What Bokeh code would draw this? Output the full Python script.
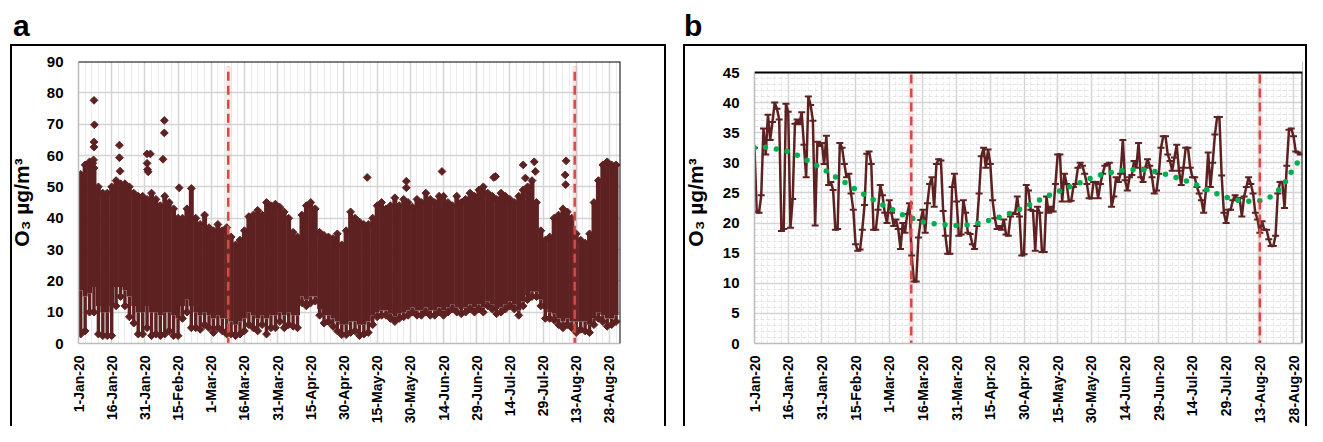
import numpy as np
from math import pi
from bokeh.plotting import figure
from bokeh.layouts import row, column
from bokeh.models import FixedTicker, Span, Div
from bokeh.embed import file_html
from bokeh.resources import INLINE

# ---------------- data ----------------
tick_labels = ["1-Jan-20", "16-Jan-20", "31-Jan-20", "15-Feb-20", "1-Mar-20", "16-Mar-20",
               "31-Mar-20", "15-Apr-20", "30-Apr-20", "15-May-20", "30-May-20", "14-Jun-20",
               "29-Jun-20", "14-Jul-20", "29-Jul-20", "13-Aug-20", "28-Aug-20"]
tick_step_days = 15
panel_letters = ["a", "b"]

# panel b: daily mean O3 (ug/m3), 1-Jan-20 ... 31-Aug-20
daily_o3 = [
    32.5, 21.9, 21.7, 24.6, 35.7, 31.4, 38.0, 33.8, 36.8, 40.0,
    39.0, 37.2, 18.7, 19.0, 39.8, 38.5, 19.2, 24.0, 36.5, 37.2,
    36.4, 38.4, 33.0, 27.6, 41.0, 39.6, 37.0, 19.6, 33.5, 32.8,
    33.3, 29.8, 34.5, 26.3, 26.8, 25.5, 18.9, 19.0, 33.3, 32.5,
    29.8, 27.6, 28.2, 24.9, 22.2, 16.5, 15.4, 15.6, 18.9, 23.0,
    31.5, 31.9, 29.8, 18.9, 18.9, 22.2, 26.3, 24.6, 21.7, 20.0,
    23.8, 21.7, 19.5, 20.6, 19.0, 15.7, 20.0, 18.4, 21.5, 23.3,
    14.6, 10.3, 10.3, 17.6, 20.5, 22.2, 18.4, 23.3, 26.5, 27.6,
    22.7, 29.8, 30.6, 30.4, 22.0, 17.9, 14.9, 14.9, 26.0, 28.2,
    23.6, 17.9, 18.1, 23.8, 21.7, 18.4, 18.2, 16.5, 15.7, 19.5,
    24.9, 31.1, 32.5, 29.2, 32.2, 29.8, 23.8, 20.8, 19.0, 19.5,
    18.9, 20.6, 18.1, 17.9, 21.1, 21.7, 21.5, 24.4, 21.1, 14.6,
    14.8, 26.3, 25.4, 22.2, 22.0, 15.4, 22.7, 21.7, 15.2, 15.2,
    24.4, 21.7, 22.7, 21.9, 26.5, 31.4, 31.4, 23.6, 28.2, 26.5,
    23.6, 23.7, 26.0, 26.5, 29.2, 30.0, 29.5, 28.2, 26.5, 24.1,
    24.1, 26.8, 26.8, 24.1, 26.5, 28.2, 29.5, 29.8, 30.0, 22.7,
    24.4, 27.6, 26.8, 28.2, 33.8, 27.1, 25.4, 27.6, 28.0, 30.3,
    29.2, 33.3, 27.6, 26.8, 29.2, 30.6, 29.5, 27.6, 24.9, 25.4,
    28.2, 32.5, 34.4, 34.4, 31.4, 30.3, 28.7, 30.9, 33.0, 28.7,
    26.3, 29.2, 32.5, 32.5, 29.2, 27.6, 27.6, 26.0, 24.9, 23.8,
    21.7, 25.4, 31.7, 26.0, 30.0, 34.7, 37.6, 37.6, 27.9, 21.7,
    20.0, 22.2, 22.2, 23.8, 24.6, 24.1, 24.1, 21.1, 24.4, 26.0,
    27.6, 26.5, 24.9, 21.7, 20.6, 18.4, 20.3, 18.9, 18.9, 17.3,
    16.2, 16.2, 17.9, 24.9, 26.8, 26.8, 22.5, 29.5, 35.5, 35.7,
    34.4, 31.9, 31.7, 31.4,
]

# panel b: polynomial trend line (day, value)
trend_day = [0, 5, 10, 15, 20, 25, 30, 35, 40, 45, 50, 55, 60, 65, 70, 75, 80, 85, 90, 95,
             100, 105, 110, 115, 120, 125, 130, 135, 140, 145, 150, 155, 160, 165, 170, 175,
             180, 185, 190, 195, 200, 205, 210, 215, 220, 225, 230, 235, 240, 244]
trend_val = [32.5, 32.6, 32.3, 31.9, 31.1, 30.1, 29.1, 27.9, 26.8, 25.6, 24.5, 23.4, 22.5, 21.5,
             20.8, 20.2, 19.9, 19.7, 19.6, 19.7, 20.0, 20.5, 21.1, 21.8, 22.6, 23.5, 24.4, 25.2,
             26.0, 26.7, 27.5, 28.1, 28.5, 28.8, 28.9, 28.8, 28.4, 27.9, 27.3, 26.6, 25.8, 25.0,
             24.3, 23.8, 23.6, 23.7, 24.4, 26.0, 29.1, 31.2]

# panel a: hourly O3 cloud per 2-day bin:
# highest value, lower edge of the dense core, lowest value
bin_days = 2
hourly_hi = [
    54, 57, 58, 56, 50, 48, 48, 50, 52, 51,
    51, 50, 48, 47, 47, 46, 48, 46, 44, 47,
    45, 43, 40, 40, 43, 49.5, 40, 38, 41, 37,
    36, 38, 36, 37, 34, 31.5, 33, 36, 40.5, 41,
    42.5, 41, 45, 44, 44.5, 43.5, 42, 40, 35.5, 34,
    41, 44, 45, 43, 35.5, 34.5, 34, 33.5, 35, 31.5,
    36, 42, 40, 38.8, 38, 38, 40, 44, 45, 43,
    44, 46.5, 44, 46, 45, 43.5, 46, 45, 48, 46,
    45, 47, 47, 45, 44, 47, 45, 46, 48, 47,
    49, 50, 48, 47, 46, 48, 47, 46, 45, 47,
    49, 50, 52, 45, 36, 33, 34, 40, 41, 43,
    42, 40, 35, 33, 32, 35, 45, 52, 57, 58,
    57, 57,
]
hourly_core_lo = [
    17, 15, 16, 18, 12, 10, 10, 12, 18, 18,
    17, 15, 12, 10, 10, 12, 10, 10, 9, 10,
    10, 9, 8, 12, 14, 12, 10, 9, 10, 9,
    8, 9, 8, 8, 7, 6, 7, 8, 10, 9,
    8, 9, 8, 9, 9, 10, 9, 10, 9, 9,
    15, 14, 15, 15, 11, 9, 9, 8, 7, 6,
    6, 7, 7, 6, 6, 7, 9, 10, 10.5, 10.5,
    9.5, 8.5, 9.5, 10, 10.5, 11.5, 10.5, 10.5, 11.5, 10.5,
    10.5, 11.5, 10.5, 11.5, 12.5, 11.5, 11, 11.5, 12.5, 11.5,
    12.5, 11.5, 13.5, 12.5, 11, 11.5, 12.5, 13.5, 12.5, 10.5,
    13.5, 15.5, 16.5, 16.5, 14, 11, 10, 9.5, 8, 7,
    8, 7, 7, 7, 7, 6, 8, 10, 9, 8,
    8, 9,
]
hourly_lo = [
    3, 4, 10, 10, 3, 2.5, 2.5, 2.5, 12, 15,
    12, 8.5, 6.5, 3, 3, 5, 2.5, 3, 2.5, 3,
    4, 2.5, 2.5, 8, 10, 5, 5, 4.5, 6, 5,
    3.5, 5, 4, 3, 3, 2.5, 3, 4, 6, 5,
    4, 6, 3, 5, 5, 7, 5, 6, 5.5, 5,
    13, 12, 13, 13.5, 9, 6.5, 7, 5.5, 4, 2.8,
    2.8, 3.5, 4, 2.5, 3, 3.5, 6, 8.5, 9, 9,
    8, 7, 8, 8.5, 9, 10, 9, 9, 10, 9,
    9, 10, 9, 10, 11, 10, 9.5, 10, 11, 10,
    11, 10, 12, 11, 9.5, 10, 11, 12, 11, 9,
    12, 14, 15, 15, 12, 8, 8, 7.5, 6, 5,
    6, 5, 3.5, 4.5, 4, 3.5, 6, 8, 7, 5.5,
    6, 7,
]
# panel a: isolated high hourly values (day, value)
outlier_day = [6.5, 6.8, 7.0, 7.0, 7.2, 7.0, 18.5, 18.5, 18.8, 31.0, 31.0, 31.2, 31.5, 32.5,
               38.8, 38.8, 38.2, 45.5, 130.5, 148.2, 148.2, 164.3, 187.7, 188.5, 201.0, 202.0,
               206.0, 206.5, 220.4, 220.0, 220.2]
outlier_val = [57.5, 58.6, 62.7, 64.3, 69.8, 77.6, 63.3, 59.3, 55.0, 60.5, 57.5, 55.5, 54.8, 60.5,
               71.2, 67.2, 58.8, 49.7, 53.0, 51.8, 49.7, 54.9, 53.0, 53.3, 57.0, 52.8,
               58.0, 54.9, 58.3, 53.8, 50.7]

# event marker days (vertical dashed lines)
events_a = [67.7, 224.3]
events_b = [69.8, 225.0]

# ---------------- style ----------------
FONT = "Liberation Sans"
BROWN = "#5e2121"
RED = "#d44a44"
GREEN = "#00b050"

tick_days = [i * tick_step_days for i in range(len(tick_labels))]
minor_days = list(range(0, 246, 3))
HEAD = 44         # strip holding the panel letter, above the boxed figure
H = 426 - HEAD    # figure height
TOP = 61 - HEAD   # frame top inside the figure (rows align frames)
BOTTOM_B = 83     # space for rotated date labels
FRAME_BOTTOM = H - BOTTOM_B


def box_style(left, right, height):
    g = "linear-gradient(#000,#000)"
    return {
        "background-image": ", ".join([g, g, g]),
        "background-size": f"2px {height}px, {right - left + 2}px 2px, 2px {height}px",
        "background-position": f"{left}px 0px, {left}px 0px, {right}px 0px",
        "background-repeat": "no-repeat",
    }


def letter_div(letter, width, left):
    html = (f'<div style="margin:11px 0 0 {left}px; line-height:30px; font-size:30px; '
            f'font-weight:bold; font-family:\'{FONT}\'; color:black;">{letter}</div>')
    return Div(text=html, width=width, height=HEAD, margin=(0, 0, 0, 0))


def style_axes(p, yticks, yminor, ylabel, ygrid_minor, label_standoff):
    p.xaxis.ticker = FixedTicker(ticks=tick_days, minor_ticks=minor_days)
    p.xaxis.major_label_overrides = {d: l for d, l in zip(tick_days, tick_labels)}
    p.xaxis.major_label_orientation = pi / 2
    p.yaxis.ticker = FixedTicker(ticks=yticks, minor_ticks=yminor)
    for ax in (p.xaxis[0], p.yaxis[0]):
        ax.major_tick_line_color = None
        ax.minor_tick_line_color = None
        ax.axis_line_color = "#bdbdbd"
        ax.axis_line_width = 1.5
        ax.major_label_text_font = FONT
        ax.major_label_text_font_style = "bold"
        ax.major_label_text_color = "black"
    p.xaxis.major_label_text_font_size = "14px"
    p.yaxis.major_label_text_font_size = "15px"
    p.xaxis.major_label_standoff = 6
    p.yaxis.major_label_standoff = 9
    p.yaxis.axis_label = ylabel
    p.yaxis.axis_label_text_font = FONT
    p.yaxis.axis_label_text_font_style = "bold"
    p.yaxis.axis_label_text_font_size = "21px"
    p.yaxis.axis_label_text_color = "black"
    p.yaxis.axis_label_standoff = label_standoff
    p.xgrid.grid_line_color = "#d4d4d4"
    p.xgrid.grid_line_width = 1.5
    p.xgrid.minor_grid_line_color = "#ebebeb"
    p.xgrid.minor_grid_line_width = 1
    p.ygrid.grid_line_color = "#d4d4d4"
    p.ygrid.grid_line_width = 1.5
    if ygrid_minor:
        p.ygrid.minor_grid_line_color = "#e4e4e4"
        p.ygrid.minor_grid_line_width = 1
        p.ygrid.minor_grid_line_dash = "4 2"
        p.xgrid.minor_grid_line_dash = "4 2"
    p.outline_line_color = None
    p.background_fill_color = "white"
    p.border_fill_color = None


# ---------------- panel a ----------------
wa = 672
pa = figure(width=wa, height=H, x_range=(0, 245), y_range=(0, 90),
            output_backend="svg", toolbar_location=None,
            min_border_left=78, min_border_right=wa - 620, min_border_top=TOP,
            min_border_bottom=BOTTOM_B,
            styles=box_style(10, 664, H))
style_axes(pa, list(range(0, 91, 10)), [], "O₃ µg/m³", False, 11)
pa.add_layout(Span(location=90, dimension="width", line_color="black", line_width=2))
pa.add_layout(Span(location=245, dimension="height", line_color="black", line_width=2))

bin_x = [bin_days * i + bin_days / 2 for i in range(len(hourly_hi))]
pa.vbar(x=bin_x, width=bin_days * 1.12, bottom=hourly_core_lo, top=hourly_hi,
        fill_color=BROWN, line_color=None)
pa.vbar(x=bin_x, width=bin_days * 0.78, bottom=hourly_lo, top=hourly_core_lo,
        fill_color=BROWN, line_color=None)
pa.scatter(bin_x, hourly_hi, marker="square", angle=pi / 4, size=5.5, color=BROWN)
pa.scatter(bin_x, hourly_lo, marker="square", angle=pi / 4, size=5.5, color=BROWN)
pa.scatter(outlier_day, outlier_val, marker="square", angle=pi / 4, size=5.5, color=BROWN)
for d in events_a:
    pa.segment(x0=[d], y0=[-1], x1=[d], y1=[88.4], line_color=RED, line_width=6, line_alpha=0.12)
    pa.segment(x0=[d], y0=[-1], x1=[d], y1=[88.4], line_color=RED, line_width=2.5, line_dash="9 5")

# ---------------- panel b ----------------
wb = 1307 - wa
frame_right_b = 1302 - wa
yb_top_px = 72 - 61                        # 45 sits 11 px below the frame top
yb_scale = (FRAME_BOTTOM - TOP - yb_top_px) / 45.0
yb_end = 45 + yb_top_px / yb_scale
pb = figure(width=wb, height=H, x_range=(0, 244), y_range=(0, yb_end),
            output_backend="svg", toolbar_location=None,
            min_border_left=82, min_border_right=wb - frame_right_b, min_border_top=TOP,
            min_border_bottom=BOTTOM_B,
            styles=box_style(11, 633, H))
style_axes(pb, list(range(0, 46, 5)), list(range(0, 46, 1)), "O₃ µg/m³", True, 13)
pb.yaxis.bounds = (0, 45)
pb.add_layout(Span(location=244, dimension="height", line_color="black", line_width=2,
                   level="underlay"))

days = list(range(len(daily_o3)))
pb.line(days, daily_o3, line_color=BROWN, line_width=2.5)
pb.scatter(days, daily_o3, marker="dash", size=7, line_color=BROWN, line_width=2)
pb.line(trend_day, trend_val, line_color=GREEN, line_width=5.5, line_dash="0 11", line_cap="round")
for d in events_b:
    pb.segment(x0=[d], y0=[-1], x1=[d], y1=[45], line_color=RED, line_width=6, line_alpha=0.12)
    pb.segment(x0=[d], y0=[-1], x1=[d], y1=[45], line_color=RED, line_width=2.5, line_dash="9 5")
# blank strip above 45 (plot area of panel b starts lower than panel a)
pb.quad(left=[-5], right=[250], bottom=[45], top=[yb_end + 5], fill_color="white", line_color=None)
pb.add_layout(Span(location=45, dimension="width", line_color="black", line_width=2))

layout = row(column(letter_div(panel_letters[0], wa, 13), pa, spacing=0),
             column(letter_div(panel_letters[1], wb, 12), pb, spacing=0),
             spacing=0)
open("out.html", "w").write(file_html(layout, INLINE))
